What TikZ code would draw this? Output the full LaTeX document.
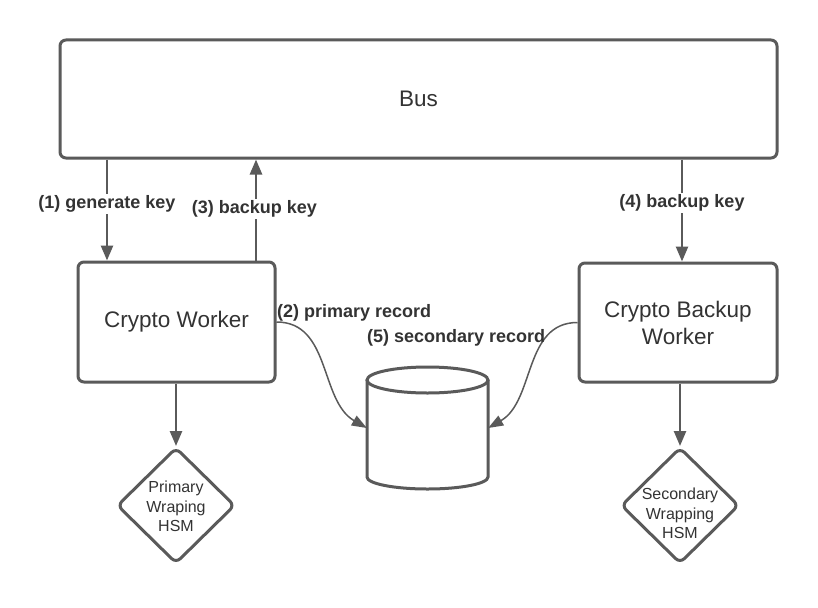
\documentclass[tikz,border=0pt]{standalone}
\usepackage{fontspec}
\setmainfont{Liberation Sans}
\usetikzlibrary{arrows.meta,shapes.geometric}
\definecolor{ln}{HTML}{5A5A5A}
\definecolor{tx}{HTML}{333333}
\tikzset{
  box/.style={draw=ln, line width=3pt, rounded corners=6pt, fill=white, inner sep=0pt,
    text=tx, font=\fontsize{22.5}{27}\selectfont, align=center},
  hsm/.style={diamond, draw=ln, line width=3pt, rounded corners=6pt, fill=white, inner sep=0pt,
    minimum width=118pt, minimum height=116pt},
  hsmtext/.style={text=tx, align=center, inner sep=0pt, font=\fontsize{16}{19.5}\selectfont},
  arr/.style={draw=ln, line width=2.5pt, -{Triangle[length=15pt,width=12pt]}},
  carr/.style={draw=ln, line width=1.5pt, -{Triangle[length=15pt,width=11pt]}},
  lbl/.style={fill=white, text=tx, inner sep=2pt, font=\fontsize{18}{20}\selectfont\bfseries},
  lblnf/.style={text=tx, inner sep=1pt, font=\fontsize{18}{20}\selectfont\bfseries}
}
\begin{document}
\begin{tikzpicture}[x=1pt,y=-1pt]
\useasboundingbox (0,0) rectangle (818,607);
\fill[white] (0,0) rectangle (818,607);
% nodes
\node[box, minimum width=717pt, minimum height=118pt] (bus) at (418.5,99) {Bus};
\node[box, minimum width=197pt, minimum height=120pt] (w) at (176.5,322) {Crypto Worker};
\node[box, minimum width=198pt, minimum height=119pt] (bw) at (678,322.5) {Crypto Backup\\Worker};
\node[hsm] (h1) at (176,505.5) {};
\node[hsmtext] (h1t) at ([yshift=-1pt]h1.center) {Primary\\Wraping\\HSM};
\node[hsm] (h2) at (680,505.5) {};
\node[hsmtext] (h2t) at ([yshift=-8pt]h2.center) {Secondary\\Wrapping\\HSM};
% database cylinder
\draw[ln, line width=3pt, fill=white] (367,380) -- (367,477) arc[start angle=180, end angle=0, x radius=60.5, y radius=12] -- (488,380);
\draw[ln, line width=3pt, fill=white] (427.5,380) ellipse[x radius=60.5, y radius=13];
\node[minimum width=121pt, minimum height=122pt, inner sep=0pt] (db) at (427.5,428) {};
% connector x positions
\coordinate (x1) at (107,0);
\coordinate (x3) at (256,0);
\coordinate (x4) at (682,0);
\coordinate (x5) at (176,0);
\coordinate (x6) at (680,0);
% arrows
\draw[arr] (bus.south -| x1) -- (w.north -| x1);
\draw[arr] (w.north -| x3) -- (bus.south -| x3);
\draw[arr] (bus.south -| x4) -- (bw.north -| x4);
\draw[arr] (w.south -| x5) -- (h1.north);
\draw[arr] (bw.south -| x6) -- (h2.north);
\draw[carr] (w.east) to[out=0, in=150] (db.west);
\draw[carr] (bw.west) to[out=180, in=30] (db.east);
% labels
\node[lbl] (l1) at (107,204) {(1) generate key};
\node[lbl] (l3) at (254.5,209) {(3) backup key};
\node[lbl] (l4) at (682,203) {(4) backup key};
\node[lblnf, anchor=west] (l2) at (276,313) {(2) primary record};
\node[lblnf, anchor=west] (l5) at (366,338) {(5) secondary record};
\end{tikzpicture}
\end{document}
